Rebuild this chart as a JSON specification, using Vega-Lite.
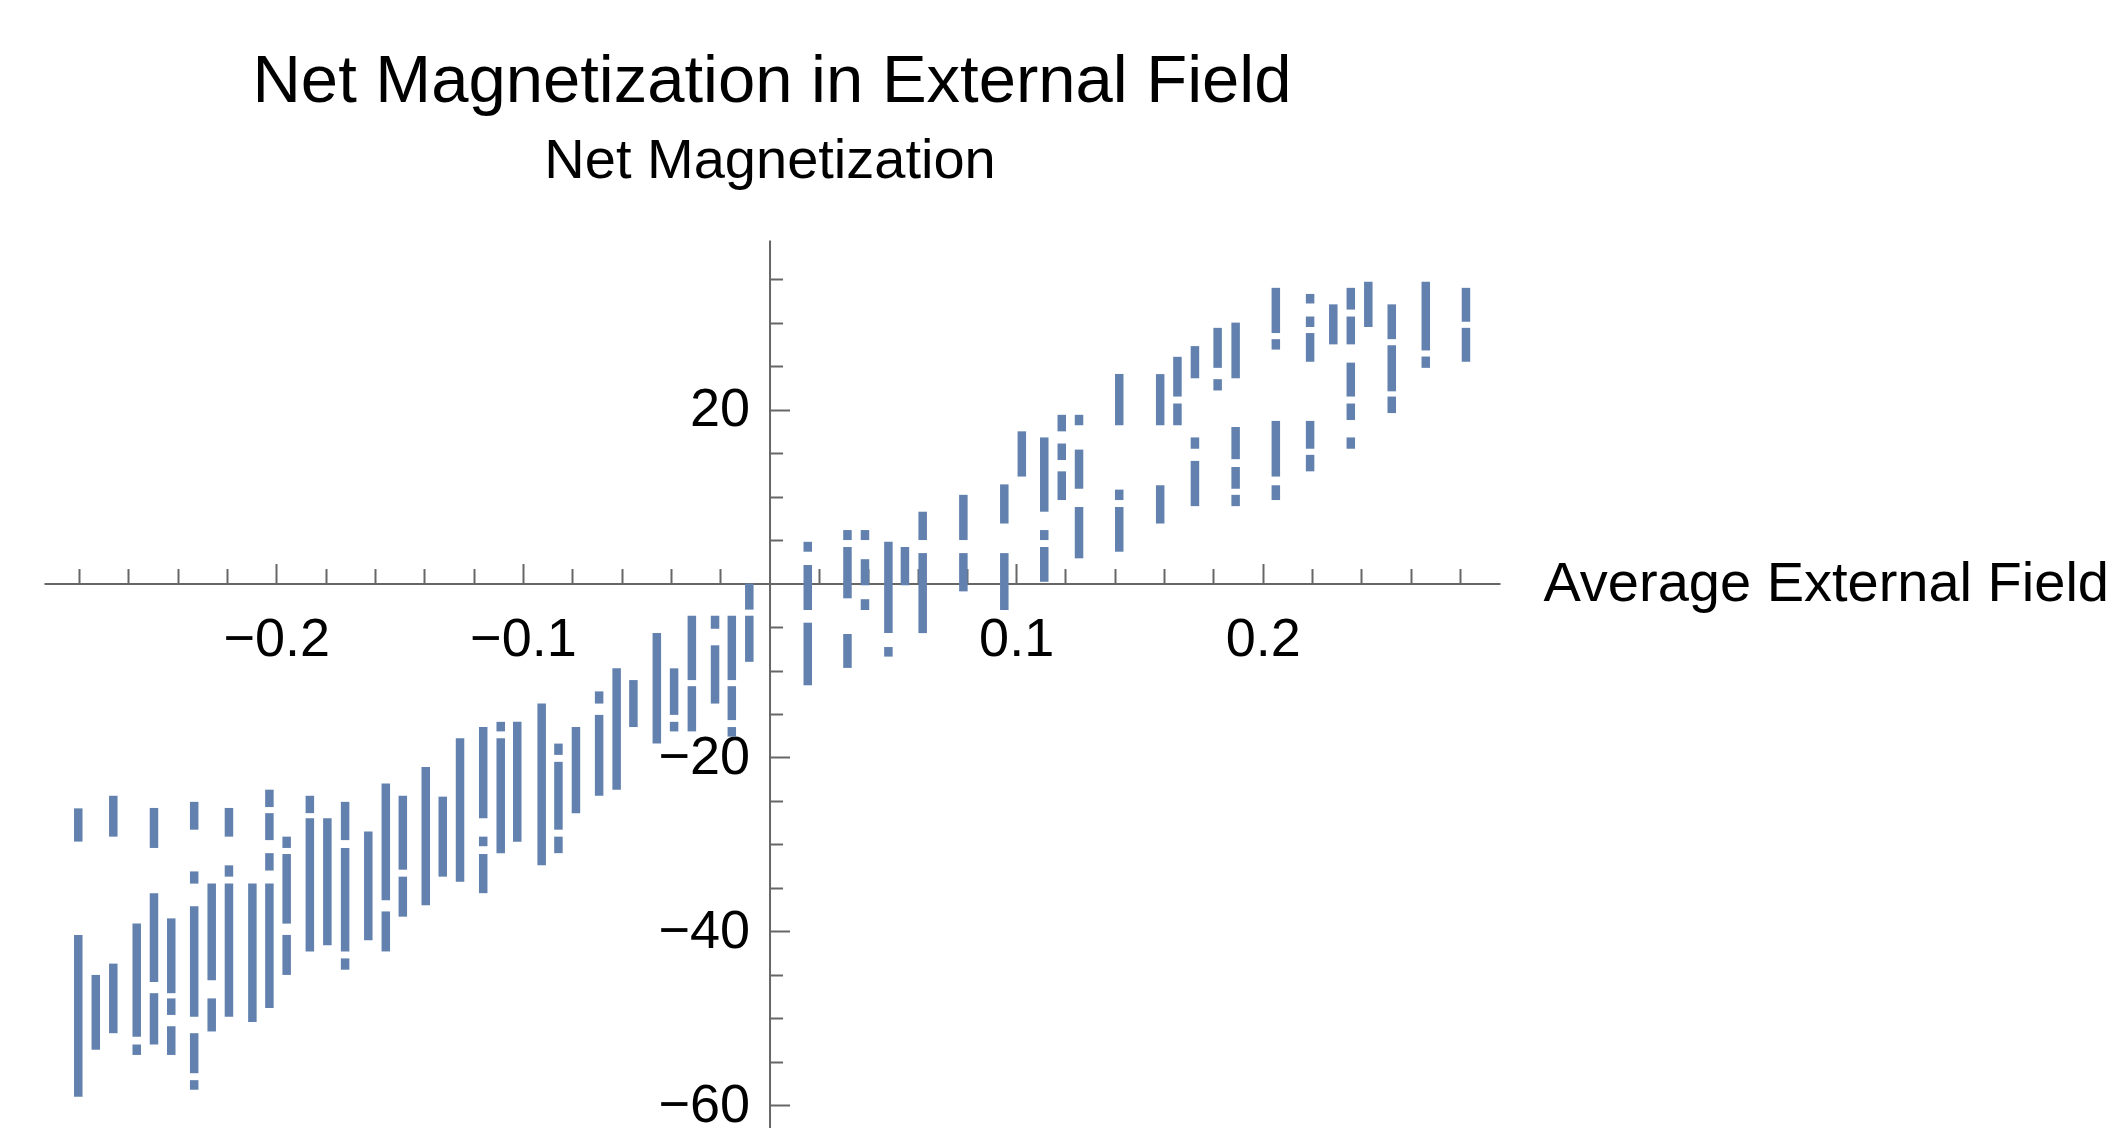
{
  "$schema": "https://vega.github.io/schema/vega-lite/v6.json",
  "width": 1456,
  "height": 888,
  "autosize": {"type": "none"},
  "padding": {"left": 44, "top": 240, "right": 613, "bottom": 0},
  "background": "white",
  "config": {"view": {"stroke": null}, "font": "Liberation Sans"},
  "title": {
    "text": "Net Magnetization in External Field",
    "font": "Liberation Sans",
    "fontSize": 67,
    "fontWeight": "normal",
    "color": "#000000",
    "anchor": "middle",
    "frame": "group",
    "baseline": "alphabetic",
    "offset": -37
  },
  "data": {
    "values": [
      {"field": -0.2803, "lo": -29.67, "hi": -25.85},
      {"field": -0.2803, "lo": -59.0, "hi": -40.4},
      {"field": -0.2732, "lo": -53.6, "hi": -45.0},
      {"field": -0.2661, "lo": -29.1, "hi": -24.4},
      {"field": -0.2661, "lo": -51.7, "hi": -43.7},
      {"field": -0.2566, "lo": -52.1, "hi": -39.1},
      {"field": -0.2566, "lo": -54.2, "hi": -53.0},
      {"field": -0.2496, "lo": -30.4, "hi": -25.8},
      {"field": -0.2496, "lo": -45.8, "hi": -35.6},
      {"field": -0.2496, "lo": -53.0, "hi": -47.1},
      {"field": -0.2426, "lo": -47.1, "hi": -38.5},
      {"field": -0.2426, "lo": -49.6, "hi": -47.7},
      {"field": -0.2426, "lo": -54.2, "hi": -50.9},
      {"field": -0.2333, "lo": -28.3, "hi": -25.1},
      {"field": -0.2333, "lo": -34.5, "hi": -33.1},
      {"field": -0.2333, "lo": -49.8, "hi": -37.1},
      {"field": -0.2333, "lo": -56.3, "hi": -51.7},
      {"field": -0.2333, "lo": -58.2, "hi": -57.1},
      {"field": -0.2262, "lo": -45.6, "hi": -34.5},
      {"field": -0.2262, "lo": -51.5, "hi": -47.7},
      {"field": -0.2192, "lo": -29.1, "hi": -25.8},
      {"field": -0.2192, "lo": -33.7, "hi": -32.4},
      {"field": -0.2192, "lo": -49.8, "hi": -34.5},
      {"field": -0.2097, "lo": -50.4, "hi": -34.5},
      {"field": -0.2028, "lo": -25.7, "hi": -23.7},
      {"field": -0.2028, "lo": -29.5, "hi": -26.4},
      {"field": -0.2028, "lo": -33.0, "hi": -31.0},
      {"field": -0.2028, "lo": -48.8, "hi": -34.5},
      {"field": -0.1958, "lo": -30.4, "hi": -29.1},
      {"field": -0.1958, "lo": -39.1, "hi": -31.1},
      {"field": -0.1958, "lo": -45.0, "hi": -40.4},
      {"field": -0.1864, "lo": -26.4, "hi": -24.4},
      {"field": -0.1864, "lo": -42.3, "hi": -27.0},
      {"field": -0.1793, "lo": -41.6, "hi": -27.0},
      {"field": -0.1721, "lo": -29.5, "hi": -25.1},
      {"field": -0.1721, "lo": -42.3, "hi": -30.4},
      {"field": -0.1721, "lo": -44.4, "hi": -43.1},
      {"field": -0.1627, "lo": -41.0, "hi": -28.5},
      {"field": -0.1556, "lo": -36.4, "hi": -23.0},
      {"field": -0.1556, "lo": -42.3, "hi": -37.7},
      {"field": -0.1487, "lo": -32.9, "hi": -24.4},
      {"field": -0.1487, "lo": -38.3, "hi": -33.7},
      {"field": -0.1394, "lo": -37.0, "hi": -21.1},
      {"field": -0.1325, "lo": -33.7, "hi": -24.5},
      {"field": -0.1255, "lo": -34.3, "hi": -17.8},
      {"field": -0.1161, "lo": -27.0, "hi": -16.5},
      {"field": -0.1161, "lo": -30.2, "hi": -29.1},
      {"field": -0.1161, "lo": -35.6, "hi": -31.1},
      {"field": -0.109, "lo": -17.0, "hi": -15.9},
      {"field": -0.109, "lo": -31.0, "hi": -17.8},
      {"field": -0.1023, "lo": -29.7, "hi": -15.9},
      {"field": -0.0924, "lo": -32.4, "hi": -13.8},
      {"field": -0.0856, "lo": -19.7, "hi": -18.4},
      {"field": -0.0856, "lo": -28.3, "hi": -20.5},
      {"field": -0.0856, "lo": -31.0, "hi": -29.1},
      {"field": -0.0785, "lo": -26.4, "hi": -16.5},
      {"field": -0.0691, "lo": -13.8, "hi": -12.4},
      {"field": -0.0691, "lo": -24.4, "hi": -15.1},
      {"field": -0.062, "lo": -23.7, "hi": -9.75},
      {"field": -0.0552, "lo": -16.5, "hi": -11.1},
      {"field": -0.0457, "lo": -18.4, "hi": -5.7},
      {"field": -0.0387, "lo": -15.1, "hi": -9.75},
      {"field": -0.0387, "lo": -17.0, "hi": -15.9},
      {"field": -0.0315, "lo": -11.1, "hi": -3.7},
      {"field": -0.0315, "lo": -17.0, "hi": -11.8},
      {"field": -0.0221, "lo": -5.2, "hi": -3.7},
      {"field": -0.0221, "lo": -13.8, "hi": -7.1},
      {"field": -0.0153, "lo": -11.1, "hi": -3.7},
      {"field": -0.0153, "lo": -15.7, "hi": -11.8},
      {"field": -0.0153, "lo": -17.6, "hi": -16.5},
      {"field": -0.0082, "lo": -3.0, "hi": 0.0},
      {"field": -0.0082, "lo": -9.0, "hi": -3.7},
      {"field": 0.0155, "lo": 3.66, "hi": 4.8},
      {"field": 0.0155, "lo": -3.04, "hi": 2.13},
      {"field": 0.0155, "lo": -11.7, "hi": -4.5},
      {"field": 0.0316, "lo": 5.0, "hi": 6.15},
      {"field": 0.0316, "lo": -1.7, "hi": 4.2},
      {"field": 0.0316, "lo": -9.7, "hi": -5.8},
      {"field": 0.0387, "lo": 5.0, "hi": 6.15},
      {"field": 0.0387, "lo": -0.2, "hi": 2.8},
      {"field": 0.0387, "lo": -3.04, "hi": -1.8},
      {"field": 0.0482, "lo": -5.7, "hi": 4.8},
      {"field": 0.0482, "lo": -8.4, "hi": -7.3},
      {"field": 0.0549, "lo": -0.2, "hi": 4.2},
      {"field": 0.0621, "lo": 5.0, "hi": 8.26},
      {"field": 0.0621, "lo": -5.7, "hi": 3.5},
      {"field": 0.0786, "lo": 5.0, "hi": 10.2},
      {"field": 0.0786, "lo": -0.9, "hi": 3.5},
      {"field": 0.0952, "lo": 6.9, "hi": 11.4},
      {"field": 0.0952, "lo": -3.04, "hi": 3.5},
      {"field": 0.1023, "lo": 12.3, "hi": 17.5},
      {"field": 0.1114, "lo": 8.26, "hi": 16.8},
      {"field": 0.1114, "lo": 5.0, "hi": 6.15},
      {"field": 0.1114, "lo": 0.2, "hi": 4.2},
      {"field": 0.1185, "lo": 17.5, "hi": 19.4},
      {"field": 0.1185, "lo": 14.2, "hi": 16.1},
      {"field": 0.1185, "lo": 9.6, "hi": 12.9},
      {"field": 0.1255, "lo": 18.2, "hi": 19.4},
      {"field": 0.1255, "lo": 10.9, "hi": 15.4},
      {"field": 0.1255, "lo": 2.9, "hi": 8.8},
      {"field": 0.1418, "lo": 18.2, "hi": 24.1},
      {"field": 0.1418, "lo": 9.6, "hi": 10.8},
      {"field": 0.1418, "lo": 3.66, "hi": 8.8},
      {"field": 0.1584, "lo": 18.2, "hi": 24.08},
      {"field": 0.1584, "lo": 6.9, "hi": 11.3},
      {"field": 0.1654, "lo": 21.5, "hi": 26.07},
      {"field": 0.1654, "lo": 18.2, "hi": 20.7},
      {"field": 0.1725, "lo": 23.6, "hi": 27.3},
      {"field": 0.1725, "lo": 15.5, "hi": 16.8},
      {"field": 0.1725, "lo": 8.9, "hi": 14.1},
      {"field": 0.1817, "lo": 24.8, "hi": 29.4},
      {"field": 0.1817, "lo": 22.2, "hi": 23.5},
      {"field": 0.189, "lo": 23.6, "hi": 30.0},
      {"field": 0.189, "lo": 14.3, "hi": 18.0},
      {"field": 0.189, "lo": 10.9, "hi": 13.4},
      {"field": 0.189, "lo": 8.9, "hi": 10.2},
      {"field": 0.2053, "lo": 28.8, "hi": 34.0},
      {"field": 0.2053, "lo": 26.9, "hi": 28.1},
      {"field": 0.2053, "lo": 12.3, "hi": 18.7},
      {"field": 0.2053, "lo": 9.6, "hi": 11.3},
      {"field": 0.2192, "lo": 32.2, "hi": 33.3},
      {"field": 0.2192, "lo": 29.5, "hi": 30.7},
      {"field": 0.2192, "lo": 25.5, "hi": 28.8},
      {"field": 0.2192, "lo": 15.5, "hi": 18.7},
      {"field": 0.2192, "lo": 12.9, "hi": 14.8},
      {"field": 0.2286, "lo": 27.5, "hi": 32.1},
      {"field": 0.2357, "lo": 31.5, "hi": 34.0},
      {"field": 0.2357, "lo": 27.5, "hi": 30.7},
      {"field": 0.2357, "lo": 21.5, "hi": 25.4},
      {"field": 0.2357, "lo": 18.8, "hi": 20.7},
      {"field": 0.2357, "lo": 15.5, "hi": 16.8},
      {"field": 0.2428, "lo": 29.5, "hi": 34.7},
      {"field": 0.2523, "lo": 28.1, "hi": 32.1},
      {"field": 0.2523, "lo": 22.1, "hi": 27.4},
      {"field": 0.2523, "lo": 19.6, "hi": 21.5},
      {"field": 0.2661, "lo": 26.8, "hi": 34.7},
      {"field": 0.2661, "lo": 24.8, "hi": 26.1},
      {"field": 0.2824, "lo": 30.1, "hi": 34.0},
      {"field": 0.2824, "lo": 25.5, "hi": 29.4}
    ]
  },
  "mark": {"type": "rule", "color": "#6281AE", "strokeWidth": 8.5, "strokeCap": "butt"},
  "encoding": {
    "x": {
      "field": "field",
      "type": "quantitative",
      "scale": {"domain": [-0.2942, 0.2962], "nice": false, "zero": false},
      "axis": {
        "orient": "bottom",
        "offset": {"expr": "scale('y', 0) - height"},
        "values": [-0.28, -0.26, -0.24, -0.22, -0.2, -0.18, -0.16, -0.14, -0.12, -0.1, -0.08, -0.06, -0.04, -0.02, 0.02, 0.04, 0.06, 0.08, 0.1, 0.12, 0.14, 0.16, 0.18, 0.2, 0.22, 0.24, 0.26, 0.28],
        "format": ".1f",
        "labelExpr": "abs(datum.value * 10 - round(datum.value * 10)) < 0.001 ? datum.label : ''",
        "tickSize": {"condition": {"test": "abs(datum.value * 10 - round(datum.value * 10)) < 0.001", "value": -20}, "value": -15},
        "tickColor": "#666666",
        "tickWidth": 2,
        "domainColor": "#666666",
        "domainWidth": 2,
        "grid": false,
        "labelFont": "Liberation Sans",
        "labelFontSize": 54,
        "labelColor": "#000000",
        "labelBaseline": "top",
        "labelAlign": "center",
        "labelPadding": 49,
        "labelFlush": false,
        "labelOverlap": false,
        "title": "Average External Field",
        "titleFont": "Liberation Sans",
        "titleFontSize": 56,
        "titleFontWeight": "normal",
        "titleColor": "#000000",
        "titleAngle": 0,
        "titleAlign": "left",
        "titleBaseline": "alphabetic",
        "titleX": 1499,
        "titleY": 17
      }
    },
    "y": {
      "field": "lo",
      "type": "quantitative",
      "scale": {"domain": [-62.6, 39.5], "nice": false, "zero": false},
      "axis": {
        "orient": "left",
        "offset": {"expr": "-scale('x', 0)"},
        "values": [-60, -55, -50, -45, -40, -35, -30, -25, -20, -15, -10, -5, 5, 10, 15, 20, 25, 30, 35],
        "format": "d",
        "labelExpr": "datum.value % 20 == 0 ? datum.label : ''",
        "tickSize": {"condition": {"test": "datum.value % 20 == 0", "value": -20}, "value": -13},
        "tickColor": "#666666",
        "tickWidth": 2,
        "domainColor": "#666666",
        "domainWidth": 2,
        "grid": false,
        "labelFont": "Liberation Sans",
        "labelFontSize": 54,
        "labelColor": "#000000",
        "labelAlign": "right",
        "labelBaseline": "middle",
        "labelPadding": 40,
        "labelFlush": false,
        "labelOverlap": false,
        "title": "Net Magnetization",
        "titleFont": "Liberation Sans",
        "titleFontSize": 56,
        "titleFontWeight": "normal",
        "titleColor": "#000000",
        "titleAngle": 0,
        "titleAlign": "center",
        "titleBaseline": "alphabetic",
        "titleX": 0,
        "titleY": -63
      }
    },
    "y2": {"field": "hi"}
  }
}
